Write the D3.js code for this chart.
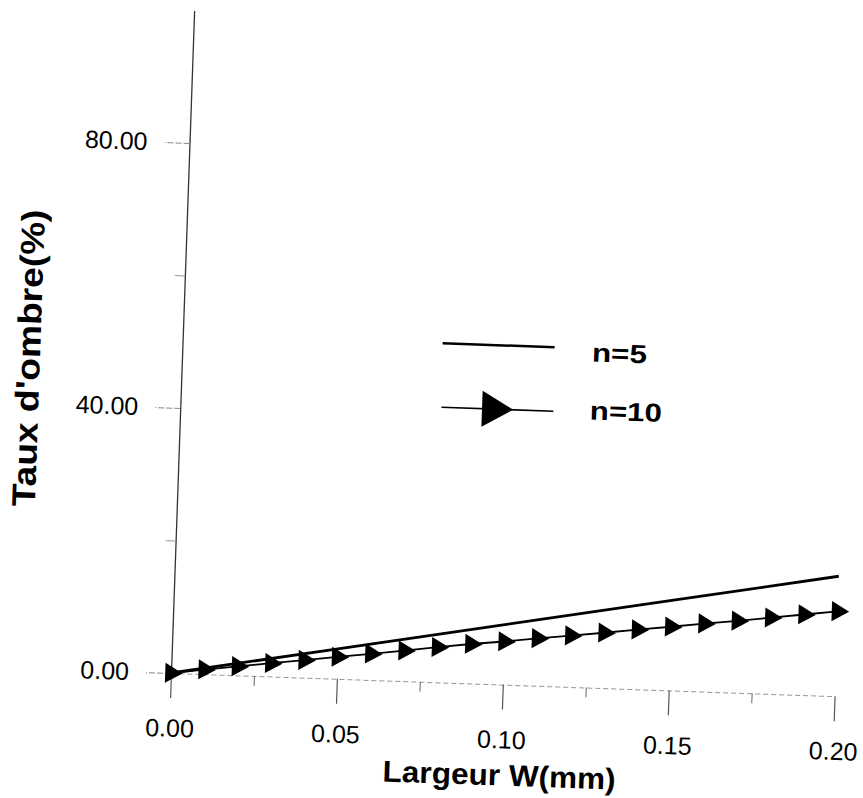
<!DOCTYPE html>
<html>
<head>
<meta charset="utf-8">
<script src="https://cdn.jsdelivr.net/npm/d3@7"></script>
<style>
  html, body { margin: 0; padding: 0; background: #fff; }
  svg { display: block; }
  text { font-family: "Liberation Sans", Arial, Helvetica, sans-serif; fill: #000; }
</style>
</head>
<body>
<script>
// Shadow rate versus finger width for two finger counts
const widthN5 = [0.00, 0.05, 0.10, 0.15, 0.20];
const shadeN5 = [0.00, 4.52, 9.05, 13.57, 18.10];

const widthN10 = [0.00, 0.01, 0.02, 0.03, 0.04, 0.05, 0.06, 0.07, 0.08, 0.09, 0.10,
                  0.11, 0.12, 0.13, 0.14, 0.15, 0.16, 0.17, 0.18, 0.19, 0.20];
const shadeN10 = [0.00, 0.70, 1.35, 2.00, 2.65, 3.30, 3.95, 4.60, 5.30, 5.95, 6.50,
                  7.15, 7.75, 8.35, 9.00, 9.60, 10.25, 10.85, 11.50, 12.15, 12.80];

const xMajorTicks = [0.00, 0.05, 0.10, 0.15, 0.20];
const xMinorTicks = [0.025, 0.075, 0.125, 0.175];
const yMajorTicks = [0, 40, 80];
const yMinorTicks = [20, 60];

const seriesNames = ["n=5", "n=10"];
const xTitle = "Largeur W(mm)";
const yTitle = "Taux d'ombre(%)";

const W = 863, H = 798;
const svg = d3.select("body").append("svg").attr("width", W).attr("height", H);
svg.append("rect").attr("width", W).attr("height", H).attr("fill", "#fff");

// The whole figure sits slightly tilted, pivoting on the data origin
const g = svg.append("g").attr("transform", "translate(171,673) rotate(2.0)");

const x = d3.scaleLinear().domain([0, 0.20]).range([0, 664]);
const y = d3.scaleLinear().domain([0, 100]).range([0, -663]);

// X axis (faint dotted baseline with downward ticks)
const xAxis = g.append("g")
  .call(d3.axisBottom(x).tickValues(xMajorTicks).tickSize(25).tickSizeOuter(0)
        .tickPadding(21).tickFormat(d3.format(".2f")));
xAxis.select(".domain").attr("stroke", "#999").attr("stroke-width", 1).attr("stroke-dasharray", "5 3");
xAxis.selectAll(".tick line").attr("stroke", "#555").attr("stroke-width", 1.2);
xAxis.selectAll(".tick text").attr("font-size", 25).attr("fill", "#000")
  .style("font-family", "'Liberation Sans', Arial, sans-serif");

const xMinor = g.append("g")
  .call(d3.axisBottom(x).tickValues(xMinorTicks).tickSize(10).tickSizeOuter(0).tickFormat(""));
xMinor.select(".domain").remove();
xMinor.selectAll(".tick line").attr("stroke", "#666").attr("stroke-width", 1);

// Y axis
const yAxis = g.append("g")
  .call(d3.axisLeft(y).tickValues(yMajorTicks).tickSize(25).tickSizeOuter(0)
        .tickPadding(17).tickFormat(d3.format(".2f")));
yAxis.select(".domain").attr("stroke", "#333").attr("stroke-width", 1.3);
yAxis.selectAll(".tick line").attr("stroke", "#888").attr("stroke-width", 1).attr("stroke-dasharray", "6 2");
yAxis.selectAll(".tick text").attr("font-size", 25).attr("fill", "#000")
  .style("font-family", "'Liberation Sans', Arial, sans-serif");

const yMinor = g.append("g")
  .call(d3.axisLeft(y).tickValues(yMinorTicks).tickSize(10).tickSizeOuter(0).tickFormat(""));
yMinor.select(".domain").remove();
yMinor.selectAll(".tick line").attr("stroke", "#999").attr("stroke-width", 1);

// Curves
const n5 = widthN5.map((w, i) => [w, shadeN5[i]]);
const n10 = widthN10.map((w, i) => [w, shadeN10[i]]);
const line = d3.line().x(d => x(d[0])).y(d => y(d[1]));

g.append("path").datum(n5).attr("d", line)
  .attr("fill", "none").attr("stroke", "#000").attr("stroke-width", 2.8);

g.append("path").datum(n10).attr("d", line)
  .attr("fill", "none").attr("stroke", "#000").attr("stroke-width", 1.8);

const tri = d3.symbol().type(d3.symbolTriangle);
g.append("g").selectAll("path").data(n10).join("path")
  .attr("d", tri.size(175)())
  .attr("transform", d => `translate(${x(d[0])},${y(d[1])}) rotate(90)`)
  .attr("fill", "#000");

// Legend
const leg = g.append("g");
leg.append("line").attr("x1", 260).attr("x2", 372).attr("y1", -339).attr("y2", -339)
  .attr("stroke", "#000").attr("stroke-width", 2.5);
leg.append("text").attr("x", 409.5).attr("y", -326)
  .attr("font-size", 26).attr("font-weight", "bold")
  .attr("textLength", 55).attr("lengthAdjust", "spacingAndGlyphs")
  .text(seriesNames[0]);

leg.append("line").attr("x1", 261).attr("x2", 373).attr("y1", -275).attr("y2", -275)
  .attr("stroke", "#000").attr("stroke-width", 1.6);
leg.append("path").attr("d", d3.symbol().type(d3.symbolTriangle).size(560)())
  .attr("transform", "translate(312,-275) rotate(90)").attr("fill", "#000");
leg.append("text").attr("x", 409.5).attr("y", -268)
  .attr("font-size", 26).attr("font-weight", "bold")
  .attr("textLength", 72).attr("lengthAdjust", "spacingAndGlyphs")
  .text(seriesNames[1]);

// Axis titles
g.append("text").attr("x", 331.5).attr("y", 101).attr("text-anchor", "middle")
  .attr("font-size", 30).attr("font-weight", "bold")
  .attr("textLength", 233).attr("lengthAdjust", "spacingAndGlyphs")
  .text(xTitle);

g.append("text").attr("transform", "translate(-142,-310) rotate(-90)")
  .attr("text-anchor", "middle")
  .attr("font-size", 33).attr("font-weight", "bold")
  .attr("textLength", 297).attr("lengthAdjust", "spacingAndGlyphs")
  .text(yTitle);
</script>
</body>
</html>
